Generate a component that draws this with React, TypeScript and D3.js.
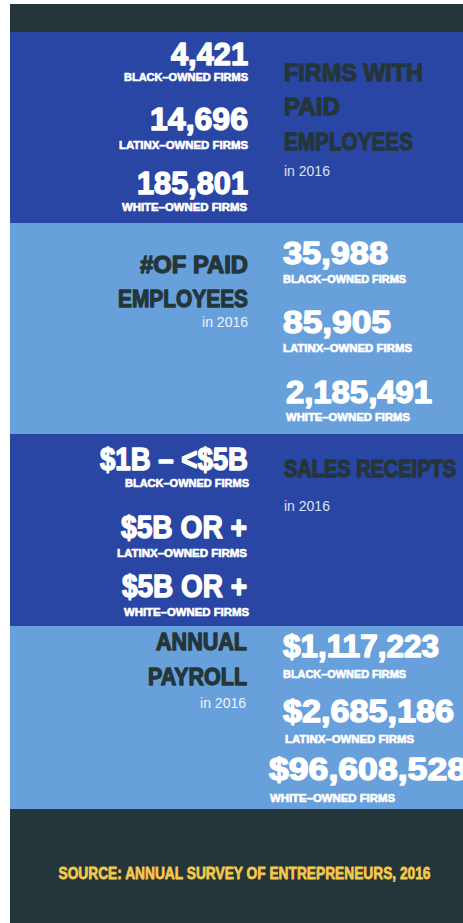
import React from "react";
import * as d3 from "d3";

// ---------- data ----------
const groups = ["BLACK–OWNED FIRMS", "LATINX–OWNED FIRMS", "WHITE–OWNED FIRMS"];
const firmsWithPaidEmployees = [4421, 14696, 185801];
const paidEmployees = [35988, 85905, 2185491];
const salesReceipts = ["$1B – <$5B", "$5B OR +", "$5B OR +"];
const annualPayroll = [1117223, 2685186, 96608528];
const sectionTitles = [
  ["FIRMS WITH", "PAID", "EMPLOYEES"],
  ["#OF PAID", "EMPLOYEES"],
  ["SALES RECEIPTS"],
  ["ANNUAL", "PAYROLL"],
];
const yearNote = "in 2016";
const sourceText = "SOURCE: ANNUAL SURVEY OF ENTREPRENEURS, 2016";

// ---------- style / layout ----------
const W = 463;
const H = 923;
const C_DARK = "#25363a";
const C_BLUE = "#2a46a4";
const C_LIGHT = "#68a0dc";
const C_YELLOW = "#f6c94c";
const DISPLAY = "'Liberation Sans', Arial, sans-serif";
const BODY = "'Liberation Sans', Arial, sans-serif";

const fmtInt = d3.format(",");
const fmtMoney = d3.format("$,");

type Layout = {
  top: number;
  bottom: number;
  fill: string;
  statsSide: "left" | "right";
  statX: number[];
  labX: number[];
  numY: number[];
  labY: number[];
  numW: number[];
  labW: number[];
  titleX: number;
  titleY: number[];
  titleW: number[];
  titleSize: number;
  titleStretch: number;
  noteX: number;
  noteY: number;
};

const layouts: Layout[] = [
  {
    top: 32, bottom: 223, fill: C_BLUE, statsSide: "left",
    statX: [248, 248, 248], labX: [248, 248, 247],
    numY: [65, 130, 194], labY: [81, 149, 211],
    numW: [77, 98, 111], labW: [124, 129, 125],
    titleX: 284, titleY: [81, 115, 150], titleW: [139, 56, 129],
    titleSize: 24, titleStretch: 1,
    noteX: 284, noteY: 176,
  },
  {
    top: 223, bottom: 434, fill: C_LIGHT, statsSide: "right",
    statX: [283, 283, 286], labX: [283, 283, 286],
    numY: [264, 333, 403], labY: [283, 352, 421],
    numW: [105, 108, 146], labW: [123, 129, 124],
    titleX: 248, titleY: [273, 307], titleW: [108, 130],
    titleSize: 24, titleStretch: 1,
    noteX: 248, noteY: 327,
  },
  {
    top: 434, bottom: 626, fill: C_BLUE, statsSide: "left",
    statX: [248, 247, 247], labX: [249, 247, 249],
    numY: [470, 538, 597], labY: [487, 557, 616],
    numW: [148, 126, 125], labW: [124, 130, 125],
    titleX: 284, titleY: [477], titleW: [172],
    titleSize: 19.8, titleStretch: 24 / 19.8,
    noteX: 284, noteY: 511,
  },
  {
    top: 626, bottom: 809, fill: C_LIGHT, statsSide: "right",
    statX: [283, 283, 269], labX: [283, 285, 270],
    numY: [657, 722, 780], labY: [678, 743, 802],
    numW: [156, 171, 198], labW: [123, 129, 125],
    titleX: 247, titleY: [650, 685], titleW: [91, 99],
    titleSize: 24, titleStretch: 1,
    noteX: 246, noteY: 708,
  },
];

const values: string[][] = [
  firmsWithPaidEmployees.map(fmtInt),
  paidEmployees.map(fmtInt),
  salesReceipts,
  annualPayroll.map(fmtMoney),
];

export default function App() {
  return (
    <svg
      width={W}
      height={H}
      viewBox={`0 0 ${W} ${H}`}
      style={{ position: "absolute", left: 0, top: 0, background: "#ffffff", overflow: "hidden" }}
    >
      {/* top dark strip */}
      <rect x={10} y={4} width={W} height={28} fill={C_DARK} />
      {layouts.map((L, si) => {
        const statsLeft = L.statsSide === "left";
        const statAnchor = statsLeft ? "end" : "start";
        const titleAnchor = statsLeft ? "start" : "end";
        return (
          <g key={si}>
            <rect x={10} y={L.top} width={W} height={L.bottom - L.top} fill={L.fill} />
            {values[si].map((v, i) => (
              <g key={i}>
                <text
                  x={L.statX[i]}
                  y={L.numY[i]}
                  textAnchor={statAnchor}
                  textLength={L.numW[i]}
                  lengthAdjust="spacingAndGlyphs"
                  fontFamily={DISPLAY}
                  fontWeight={700}
                  fontSize={30.5}
                  fill="#ffffff"
                  stroke="#ffffff"
                  strokeWidth={1.4}
                  strokeLinejoin="round"
                >
                  {v}
                </text>
                <text
                  x={L.labX[i]}
                  y={L.labY[i]}
                  textAnchor={statAnchor}
                  textLength={L.labW[i]}
                  lengthAdjust="spacingAndGlyphs"
                  fontFamily={DISPLAY}
                  fontWeight={700}
                  fontSize={10.5}
                  fill="#ffffff"
                  stroke="#ffffff"
                  strokeWidth={0.6}
                  strokeLinejoin="round"
                >
                  {groups[i]}
                </text>
              </g>
            ))}
            {sectionTitles[si].map((t, i) => (
              <text
                key={"t" + i}
                transform={`translate(${L.titleX},${L.titleY[i]}) scale(1,${L.titleStretch})`}
                textAnchor={titleAnchor}
                textLength={L.titleW[i]}
                lengthAdjust="spacingAndGlyphs"
                fontFamily={DISPLAY}
                fontWeight={700}
                fontSize={L.titleSize}
                fill={C_DARK}
                stroke={C_DARK}
                strokeWidth={1.3}
                strokeLinejoin="round"
              >
                {t}
              </text>
            ))}
            <text
              x={L.noteX}
              y={L.noteY}
              textAnchor={titleAnchor}
              fontFamily={BODY}
              fontSize={14}
              fill={L.fill === C_BLUE ? "#dce2f2" : "#eef4fb"}
            >
              {yearNote}
            </text>
          </g>
        );
      })}
      <rect x={10} y={809} width={W} height={H - 809} fill={C_DARK} />
      <text
        transform={`translate(244.5,879) scale(1,1.17)`}
        textAnchor="middle"
        textLength={372}
        lengthAdjust="spacingAndGlyphs"
        fontFamily={DISPLAY}
        fontWeight={700}
        fontSize={14.5}
        fill={C_YELLOW}
        stroke={C_YELLOW}
        strokeWidth={0.65}
        strokeLinejoin="round"
      >
        {sourceText}
      </text>
    </svg>
  );
}
